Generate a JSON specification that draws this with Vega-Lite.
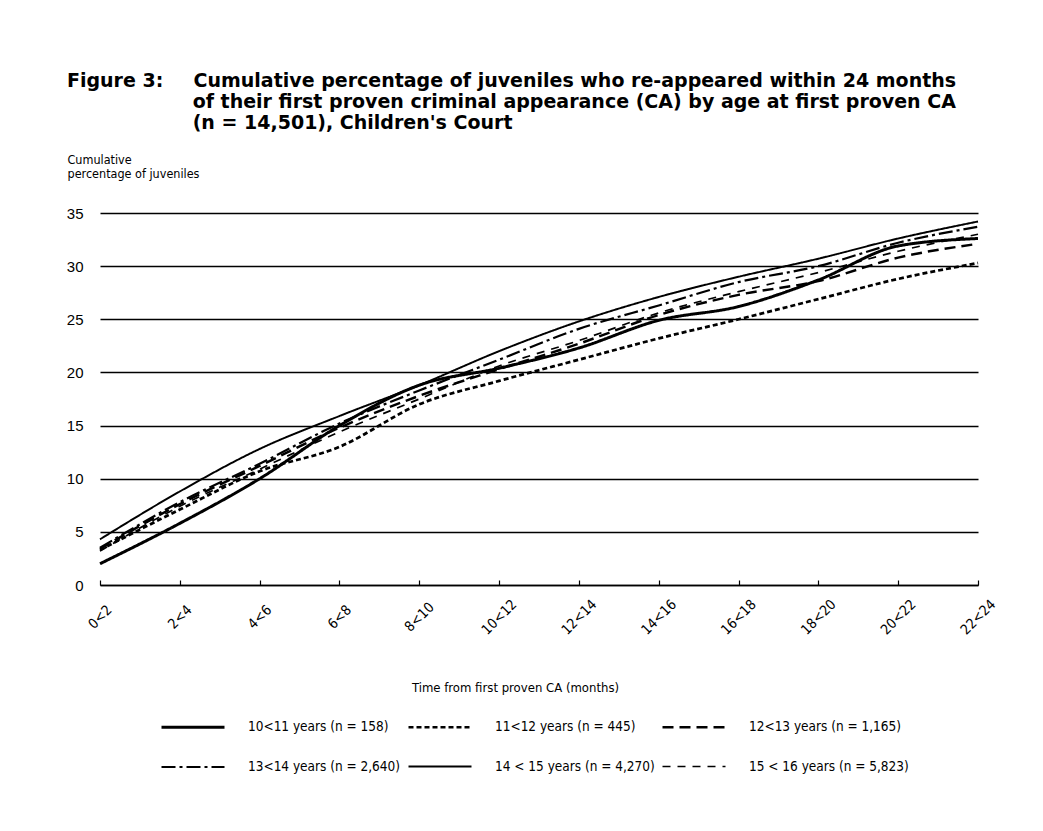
{
  "$schema": "https://vega.github.io/schema/vega-lite/v6.json",
  "width": 878,
  "height": 372,
  "autosize": {"type": "none"},
  "padding": {"left": 100, "top": 213, "right": 65, "bottom": 246},
  "background": "white",
  "title": {
    "text": [
      "Figure 3:\u00a0\u00a0\u00a0\u00a0\u2009Cumulative percentage of juveniles who re-appeared within 24 months",
      "\u200b\u00a0\u00a0\u00a0\u00a0\u00a0\u00a0\u00a0\u00a0\u00a0\u00a0\u00a0\u00a0\u00a0\u00a0\u00a0\u00a0\u00a0\u00a0\u00a0of their first proven criminal appearance (CA) by age at first proven CA",
      "\u200b\u00a0\u00a0\u00a0\u00a0\u00a0\u00a0\u00a0\u00a0\u00a0\u00a0\u00a0\u00a0\u00a0\u00a0\u00a0\u00a0\u00a0\u00a0\u00a0(n = 14,501), Children's Court"
    ],
    "anchor": "start",
    "frame": "group",
    "dx": -33,
    "offset": 20,
    "font": "DejaVu Sans",
    "fontSize": 19,
    "fontWeight": "bold",
    "color": "black",
    "lineHeight": 21
  },
  "config": {
    "view": {"stroke": null},
    "font": "Liberation Sans Narrow, DejaVu Sans Condensed, sans-serif"
  },
  "data": {
    "values": [
      {"age": "10<11 years (n = 158)", "period": "0<2", "pct": 2.0},
      {"age": "10<11 years (n = 158)", "period": "2<4", "pct": 5.8},
      {"age": "10<11 years (n = 158)", "period": "4<6", "pct": 10.0},
      {"age": "10<11 years (n = 158)", "period": "6<8", "pct": 15.0},
      {"age": "10<11 years (n = 158)", "period": "8<10", "pct": 18.8},
      {"age": "10<11 years (n = 158)", "period": "10<12", "pct": 20.4},
      {"age": "10<11 years (n = 158)", "period": "12<14", "pct": 22.3},
      {"age": "10<11 years (n = 158)", "period": "14<16", "pct": 24.9},
      {"age": "10<11 years (n = 158)", "period": "16<18", "pct": 26.2},
      {"age": "10<11 years (n = 158)", "period": "18<20", "pct": 28.7},
      {"age": "10<11 years (n = 158)", "period": "20<22", "pct": 31.9},
      {"age": "10<11 years (n = 158)", "period": "22<24", "pct": 32.6},
      {"age": "11<12 years (n = 445)", "period": "0<2", "pct": 3.3},
      {"age": "11<12 years (n = 445)", "period": "2<4", "pct": 7.1},
      {"age": "11<12 years (n = 445)", "period": "4<6", "pct": 10.7},
      {"age": "11<12 years (n = 445)", "period": "6<8", "pct": 13.0},
      {"age": "11<12 years (n = 445)", "period": "8<10", "pct": 17.0},
      {"age": "11<12 years (n = 445)", "period": "10<12", "pct": 19.2},
      {"age": "11<12 years (n = 445)", "period": "12<14", "pct": 21.2},
      {"age": "11<12 years (n = 445)", "period": "14<16", "pct": 23.2},
      {"age": "11<12 years (n = 445)", "period": "16<18", "pct": 25.0},
      {"age": "11<12 years (n = 445)", "period": "18<20", "pct": 26.9},
      {"age": "11<12 years (n = 445)", "period": "20<22", "pct": 28.8},
      {"age": "11<12 years (n = 445)", "period": "22<24", "pct": 30.3},
      {"age": "12<13 years (n = 1,165)", "period": "0<2", "pct": 3.4},
      {"age": "12<13 years (n = 1,165)", "period": "2<4", "pct": 7.6},
      {"age": "12<13 years (n = 1,165)", "period": "4<6", "pct": 11.2},
      {"age": "12<13 years (n = 1,165)", "period": "6<8", "pct": 14.8},
      {"age": "12<13 years (n = 1,165)", "period": "8<10", "pct": 17.8},
      {"age": "12<13 years (n = 1,165)", "period": "10<12", "pct": 20.3},
      {"age": "12<13 years (n = 1,165)", "period": "12<14", "pct": 22.7},
      {"age": "12<13 years (n = 1,165)", "period": "14<16", "pct": 25.4},
      {"age": "12<13 years (n = 1,165)", "period": "16<18", "pct": 27.3},
      {"age": "12<13 years (n = 1,165)", "period": "18<20", "pct": 28.6},
      {"age": "12<13 years (n = 1,165)", "period": "20<22", "pct": 30.8},
      {"age": "12<13 years (n = 1,165)", "period": "22<24", "pct": 32.1},
      {"age": "13<14 years (n = 2,640)", "period": "0<2", "pct": 3.5},
      {"age": "13<14 years (n = 2,640)", "period": "2<4", "pct": 7.8},
      {"age": "13<14 years (n = 2,640)", "period": "4<6", "pct": 11.4},
      {"age": "13<14 years (n = 2,640)", "period": "6<8", "pct": 15.2},
      {"age": "13<14 years (n = 2,640)", "period": "8<10", "pct": 18.3},
      {"age": "13<14 years (n = 2,640)", "period": "10<12", "pct": 21.2},
      {"age": "13<14 years (n = 2,640)", "period": "12<14", "pct": 24.1},
      {"age": "13<14 years (n = 2,640)", "period": "14<16", "pct": 26.3},
      {"age": "13<14 years (n = 2,640)", "period": "16<18", "pct": 28.5},
      {"age": "13<14 years (n = 2,640)", "period": "18<20", "pct": 30.0},
      {"age": "13<14 years (n = 2,640)", "period": "20<22", "pct": 32.2},
      {"age": "13<14 years (n = 2,640)", "period": "22<24", "pct": 33.7},
      {"age": "14 < 15 years (n = 4,270)", "period": "0<2", "pct": 4.3},
      {"age": "14 < 15 years (n = 4,270)", "period": "2<4", "pct": 8.8},
      {"age": "14 < 15 years (n = 4,270)", "period": "4<6", "pct": 12.8},
      {"age": "14 < 15 years (n = 4,270)", "period": "6<8", "pct": 15.9},
      {"age": "14 < 15 years (n = 4,270)", "period": "8<10", "pct": 18.8},
      {"age": "14 < 15 years (n = 4,270)", "period": "10<12", "pct": 22.0},
      {"age": "14 < 15 years (n = 4,270)", "period": "12<14", "pct": 24.8},
      {"age": "14 < 15 years (n = 4,270)", "period": "14<16", "pct": 27.1},
      {"age": "14 < 15 years (n = 4,270)", "period": "16<18", "pct": 29.0},
      {"age": "14 < 15 years (n = 4,270)", "period": "18<20", "pct": 30.7},
      {"age": "14 < 15 years (n = 4,270)", "period": "20<22", "pct": 32.6},
      {"age": "14 < 15 years (n = 4,270)", "period": "22<24", "pct": 34.2},
      {"age": "15 < 16 years (n = 5,823)", "period": "0<2", "pct": 3.2},
      {"age": "15 < 16 years (n = 5,823)", "period": "2<4", "pct": 7.4},
      {"age": "15 < 16 years (n = 5,823)", "period": "4<6", "pct": 10.9},
      {"age": "15 < 16 years (n = 5,823)", "period": "6<8", "pct": 14.4},
      {"age": "15 < 16 years (n = 5,823)", "period": "8<10", "pct": 17.5},
      {"age": "15 < 16 years (n = 5,823)", "period": "10<12", "pct": 20.6},
      {"age": "15 < 16 years (n = 5,823)", "period": "12<14", "pct": 23.0},
      {"age": "15 < 16 years (n = 5,823)", "period": "14<16", "pct": 25.6},
      {"age": "15 < 16 years (n = 5,823)", "period": "16<18", "pct": 27.6},
      {"age": "15 < 16 years (n = 5,823)", "period": "18<20", "pct": 29.4},
      {"age": "15 < 16 years (n = 5,823)", "period": "20<22", "pct": 31.4},
      {"age": "15 < 16 years (n = 5,823)", "period": "22<24", "pct": 33.0}
    ]
  },
  "mark": {"type": "line", "color": "black", "interpolate": "monotone"},
  "encoding": {
    "x": {
      "field": "period",
      "type": "ordinal",
      "sort": ["0<2", "2<4", "4<6", "6<8", "8<10", "10<12", "12<14", "14<16", "16<18", "18<20", "20<22", "22<24"],
      "scale": {"type": "point", "padding": 0},
      "axis": {
        "title": "Time from first proven CA (months)",
        "titleFontSize": 13,
        "titleFontWeight": "normal",
        "titleColor": "black",
        "titleAlign": "center",
        "titleBaseline": "middle",
        "titleX": 415,
        "titleY": 102,
        "labelAngle": -45,
        "labelAlign": "center",
        "labelBaseline": "middle",
        "labelFontSize": 14,
        "labelColor": "black",
        "labelPadding": 37,
        "domain": true,
        "domainColor": "black",
        "domainWidth": 1.5,
        "ticks": true,
        "tickColor": "black",
        "tickSize": -5,
        "tickWidth": 1.2,
        "grid": false
      }
    },
    "y": {
      "field": "pct",
      "type": "quantitative",
      "scale": {"domain": [0, 35], "nice": false, "zero": true},
      "axis": {
        "values": [0, 5, 10, 15, 20, 25, 30, 35],
        "title": ["Cumulative", "percentage of juveniles"],
        "titleAngle": 0,
        "titleAlign": "left",
        "titleBaseline": "top",
        "titleX": -33,
        "titleY": -60,
        "titleFontSize": 12.5,
        "titleFontWeight": "normal",
        "titleColor": "black",
        "titleLineHeight": 14,
        "labelFont": "Liberation Sans",
        "labelFontSize": 15,
        "labelColor": "black",
        "labelPadding": 17,
        "ticks": false,
        "domain": false,
        "grid": true,
        "gridColor": "black",
        "gridWidth": 1.5,
        "gridOpacity": 1
      }
    },
    "strokeDash": {
      "field": "age",
      "type": "nominal",
      "scale": {
        "domain": ["10<11 years (n = 158)", "11<12 years (n = 445)", "12<13 years (n = 1,165)", "13<14 years (n = 2,640)", "14 < 15 years (n = 4,270)", "15 < 16 years (n = 5,823)"],
        "range": [[1, 0], [5, 3], [11, 6], [14, 4, 3, 4], [1, 0], [8, 7]]
      },
      "legend": {
        "orient": "none",
        "legendX": 60,
        "legendY": 481,
        "direction": "horizontal",
        "columns": 3,
        "title": null,
        "symbolType": "stroke",
        "symbolSize": 3969,
        "symbolStrokeColor": "black",
        "labelFontSize": 13.5,
        "labelColor": "black",
        "labelOffset": 22,
        "columnPadding": 2,
        "rowPadding": -2,
        "symbolLimit": 0
      }
    },
    "strokeWidth": {
      "field": "age",
      "type": "nominal",
      "scale": {
        "domain": ["10<11 years (n = 158)", "11<12 years (n = 445)", "12<13 years (n = 1,165)", "13<14 years (n = 2,640)", "14 < 15 years (n = 4,270)", "15 < 16 years (n = 5,823)"],
        "range": [3, 1.7, 1.8, 1.8, 1.4, 1.6]
      },
      "legend": {
        "orient": "none",
        "legendX": 60,
        "legendY": 481,
        "direction": "horizontal",
        "columns": 3,
        "title": null,
        "symbolType": "stroke",
        "symbolSize": 3969,
        "symbolStrokeColor": "black",
        "labelFontSize": 13.5,
        "labelColor": "black",
        "labelOffset": 22,
        "columnPadding": 2,
        "rowPadding": -2,
        "symbolLimit": 0
      }
    }
  }
}
